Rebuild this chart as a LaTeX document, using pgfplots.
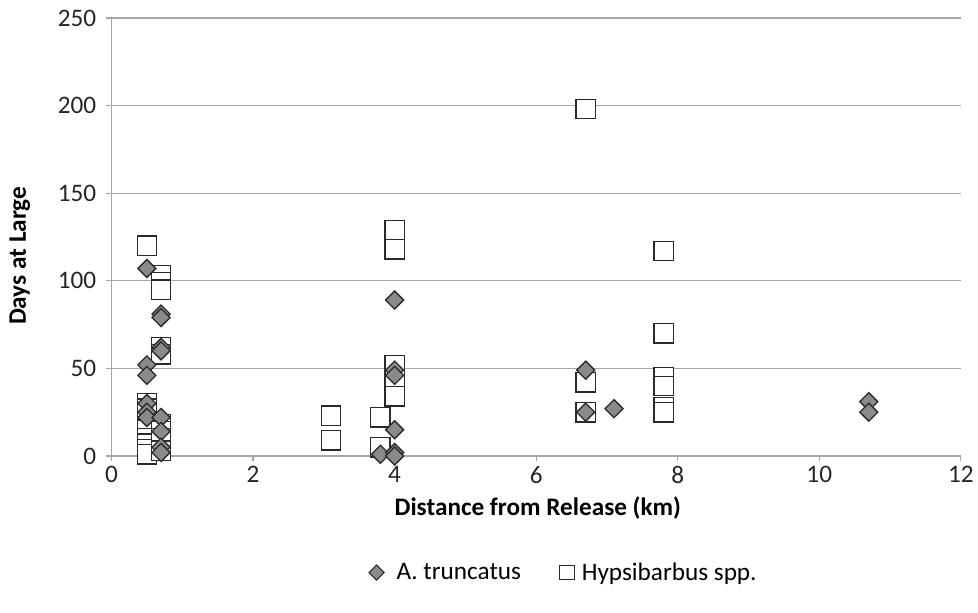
\documentclass[border=0pt]{standalone}
\usepackage{pgfplots}
\pgfplotsset{compat=1.18}
\usepackage{pgfplotstable}
\usepackage{fontspec}
\setmainfont{Carlito}
\definecolor{gridgray}{HTML}{A6A6A6}
\definecolor{dfill}{HTML}{8A8A8A}
\definecolor{dline}{HTML}{2A2A2A}
\pgfplotstableread{
x y
0.5 107
0.7 81
0.7 79
0.7 62
0.7 60
0.5 52
0.5 46
0.5 30
0.5 25
0.5 22
0.7 22
0.7 14
0.7 5
0.7 2
4.0 89
4.0 49
4.0 46
4.0 15
3.8 1
4.0 2
4.0 0
6.7 49
6.7 25
7.1 27
10.7 31
10.7 25
}\truncatus
\pgfplotstableread{
x y
0.5 120
0.7 103
0.7 99
0.7 95
0.7 62
0.7 58
0.5 30
0.5 27
0.5 20
0.5 15
0.5 10
0.5 7
0.5 4
0.5 1
0.7 18
0.7 14
0.7 10
0.7 3
3.1 23
3.1 9
3.8 22
3.8 5
4.0 129
4.0 118
4.0 52
4.0 44
4.0 34
6.7 198
6.7 42
6.7 25
7.8 117
7.8 70
7.8 45
7.8 40
7.8 28
7.8 25
}\hypsi
\begin{document}
\begin{tikzpicture}
\path (0pt,0pt) rectangle (733.5pt,461.25pt);
\begin{axis}[
  at={(84pt,117.75pt)}, anchor=south west,
  scale only axis, width=639.75pt, height=330pt,
  xmin=0, xmax=12, ymin=0, ymax=250,
  xtick={0,2,...,12}, ytick={0,50,...,250},
  axis x line*=bottom, axis y line*=left,
  axis line style={gridgray, line width=0.9pt, -},
  ymajorgrids, major grid style={gridgray, line width=0.9pt},
  tick style={gridgray, line width=0.9pt},
  tick align=outside, major tick length=4pt,
  /pgf/number format/assume math mode=true,
  ticklabel style={font=\fontsize{19}{21}\selectfont, text=black!85},
  xticklabel style={yshift=0pt},
  yticklabel style={xshift=-4pt},
  xlabel={\bfseries Distance from Release (km)},
  ylabel={\bfseries Days at Large},
  label style={font=\fontsize{19}{21}\selectfont},
  xlabel style={at={(axis description cs:0.502,-0.118)}, anchor=center},
  ylabel style={at={(axis description cs:-0.108,0.457)}, anchor=center},
  legend style={at={(axis description cs:0.533,-0.266)}, anchor=center, draw=none,
    font=\fontsize{19}{21}\selectfont, legend columns=2,
    /tikz/every even column/.append style={column sep=27pt}},
  legend cell align=left,
  clip=false,
]
\addlegendimage{only marks, mark=square*, mark options={rotate=45, fill=dfill, draw=dline, line width=0.8pt}, mark size=4pt}
\addlegendentry{\hspace{7.5pt}A. truncatus}
\addlegendimage{only marks, mark=square*, mark options={fill=white, draw=dline, line width=0.8pt}, mark size=5.5pt}
\addlegendentry{\hspace{3.75pt}Hypsibarbus spp.}
\addplot[only marks, mark=square*, mark size=7.3pt, mark options={fill=white, draw=dline, line width=1pt}, forget plot] table[x=x,y=y]{\hypsi};
\addplot[only marks, mark=square*, mark size=4.8pt, mark options={rotate=45, fill=dfill, draw=dline, line width=1pt}, forget plot] table[x=x,y=y]{\truncatus};
\end{axis}
\end{tikzpicture}
\end{document}
